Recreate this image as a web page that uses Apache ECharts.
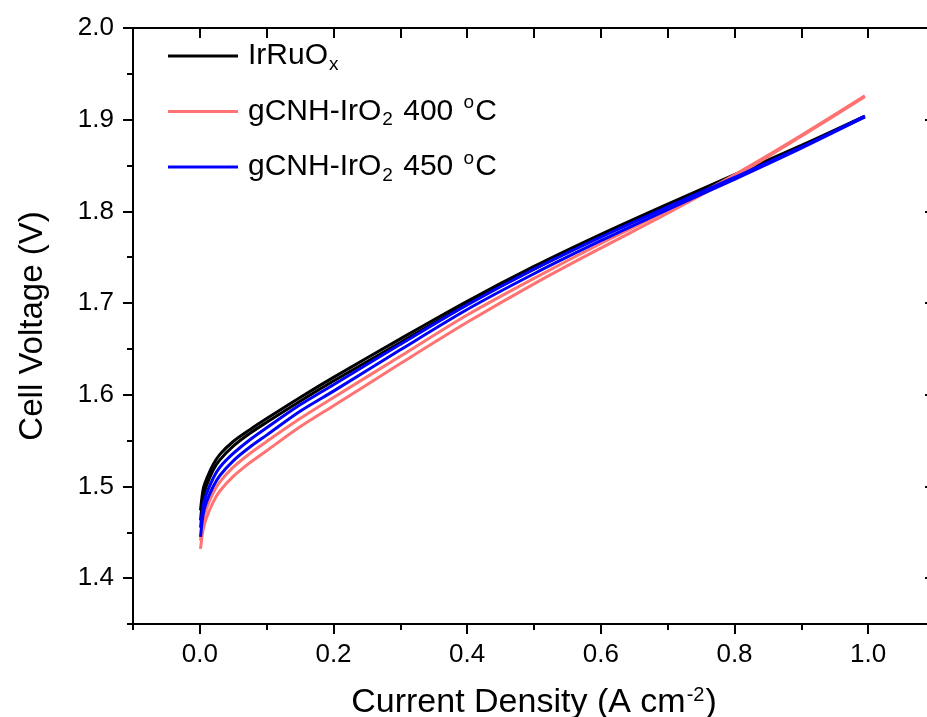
<!DOCTYPE html>
<html>
<head>
<meta charset="utf-8">
<script src="https://cdn.jsdelivr.net/npm/echarts@6/dist/echarts.min.js"></script>
<style>html,body{margin:0;padding:0;background:#fff;}#c{width:927px;height:717px;}</style>
</head>
<body>
<div id="c"></div>
<script>
// Current density (A cm^-2)
var currentDensity = [0.001, 0.005, 0.01, 0.02, 0.03, 0.05, 0.075, 0.1, 0.15, 0.2, 0.3, 0.4, 0.5, 0.6, 0.7, 0.8, 0.9, 0.995];
// Cell voltage (V), two scans per sample
var irruoxUp    = [1.474, 1.497, 1.508, 1.524, 1.535, 1.549, 1.562, 1.574, 1.597, 1.619, 1.661, 1.702, 1.740, 1.775, 1.808, 1.840, 1.872, 1.904];
var irruoxDown  = [1.463, 1.488, 1.501, 1.518, 1.529, 1.544, 1.558, 1.570, 1.593, 1.615, 1.657, 1.699, 1.737, 1.773, 1.806, 1.839, 1.871, 1.903];
var ir400Up     = [1.441, 1.463, 1.476, 1.493, 1.505, 1.521, 1.536, 1.549, 1.574, 1.597, 1.642, 1.687, 1.727, 1.765, 1.801, 1.840, 1.883, 1.926];
var ir400Down   = [1.432, 1.453, 1.466, 1.483, 1.495, 1.511, 1.526, 1.539, 1.565, 1.588, 1.634, 1.679, 1.721, 1.760, 1.798, 1.838, 1.882, 1.925];
var ir450Up     = [1.455, 1.479, 1.492, 1.509, 1.521, 1.536, 1.551, 1.564, 1.589, 1.611, 1.655, 1.698, 1.737, 1.772, 1.805, 1.837, 1.870, 1.904];
var ir450Down   = [1.445, 1.470, 1.483, 1.500, 1.512, 1.528, 1.543, 1.556, 1.582, 1.604, 1.649, 1.693, 1.732, 1.768, 1.802, 1.835, 1.869, 1.903];
// Ticks
var xMajorTicks = [0, 0.2, 0.4, 0.6, 0.8, 1.0];
var yMajorTicks = [1.4, 1.5, 1.6, 1.7, 1.8, 1.9, 2.0];
var seriesNames = ['IrRuOx', 'gCNH-IrO2 400 °C', 'gCNH-IrO2 450 °C'];
var seriesColors = ['#000000', '#FF7373', '#0000FF'];

function pairs(ys) { return currentDensity.map(function (x, i) { return [x, ys[i]]; }); }

var FONT = '"Liberation Sans", Arial, sans-serif';
var chart = echarts.init(document.getElementById('c'), null, {renderer: 'canvas'});

function mkSeries(name, color, ys, z) {
  return {
    name: name, type: 'line', data: pairs(ys), xAxisIndex: 0, yAxisIndex: 0,
    showSymbol: false, symbol: 'none', smooth: 0.3,
    lineStyle: {color: color, width: 3}, itemStyle: {color: color}, z: z,
    emphasis: {disabled: true}, animation: false
  };
}

var legendRich = {
  a: {fontSize: 30, fontFamily: FONT, color: '#000', lineHeight: 36, padding: [0, 0, 0, 5]},
  b: {fontSize: 30, fontFamily: FONT, color: '#000', lineHeight: 36},
  sub: {fontSize: 19, fontFamily: FONT, color: '#000', verticalAlign: 'bottom', padding: [0, 2, 0, 1]},
  sup: {fontSize: 19, fontFamily: FONT, color: '#000', verticalAlign: 'top', padding: [0, 1, 0, 2]}
};

var option = {
  backgroundColor: '#fff',
  animation: false,
  grid: {left: 133, top: 28, width: 802, height: 596, containLabel: false, outerBoundsMode: 'none'},
  legend: {
    data: seriesNames, orient: 'vertical', left: 168, top: 41, itemGap: 19.5, padding: 0,
    icon: 'rect', itemWidth: 70, itemHeight: 3,
    textStyle: {rich: legendRich},
    formatter: function (n) {
      if (n === 'IrRuOx') return '{a|IrRuO}{sub|x}';
      if (n === 'gCNH-IrO2 400 °C') return '{a|gCNH-IrO}{sub|2}{b| 400 }{sup|o}{b|C}';
      return '{a|gCNH-IrO}{sub|2}{b| 450 }{sup|o}{b|C}';
    },
    selectedMode: false
  },
  xAxis: [
    {type: 'value', position: 'bottom', min: -0.1, max: 1.1, interval: 0.1,
     axisLine: {show: true, onZero: false, lineStyle: {color: '#000', width: 2}},
     axisTick: {show: true, inside: false, length: 6, lineStyle: {color: '#000', width: 2}},
     splitLine: {show: false},
     axisLabel: {show: true, margin: 18, fontSize: 26, fontFamily: FONT, color: '#000',
       formatter: function (v) { var k = Math.round(v * 10); return (k % 2 === 0 && k >= 0 && k <= 10) ? (k / 10).toFixed(1) : ''; }},
     name: '{a|Current Density (A cm}{sup|-2}{a|)}', nameLocation: 'middle', nameGap: 59,
     nameTextStyle: {rich: {
       a: {fontSize: 34, fontFamily: FONT, color: '#000', lineHeight: 40},
       sup: {fontSize: 20, fontFamily: FONT, color: '#000', verticalAlign: 'top', lineHeight: 22, padding: [2, 1, 0, 1]}
     }}
    },
    {type: 'value', position: 'bottom', min: -0.1, max: 1.1,
     axisLine: {show: false, onZero: false},
     axisTick: {show: true, inside: false, length: 10, customValues: xMajorTicks, lineStyle: {color: '#000', width: 2}},
     axisLabel: {show: false}, splitLine: {show: false}},
    {type: 'value', position: 'top', min: -0.1, max: 1.1, interval: 0.1,
     axisLine: {show: true, onZero: false, lineStyle: {color: '#000', width: 2}},
     axisTick: {show: true, inside: true, length: 10, lineStyle: {color: '#000', width: 2}},
     axisLabel: {show: false}, splitLine: {show: false}}
  ],
  yAxis: [
    {type: 'value', position: 'left', min: 1.35, max: 2.0, interval: 0.05,
     axisLine: {show: true, onZero: false, lineStyle: {color: '#000', width: 2}},
     axisTick: {show: true, inside: false, length: 6, lineStyle: {color: '#000', width: 2}},
     splitLine: {show: false},
     axisLabel: {show: true, margin: 19, fontSize: 26, fontFamily: FONT, color: '#000',
       formatter: function (v) { var k = Math.round(v * 100); return (k % 10 === 0) ? (k / 100).toFixed(1) : ''; }},
     name: 'Cell Voltage (V)', nameLocation: 'middle', nameGap: 84,
     nameTextStyle: {fontSize: 33, fontFamily: FONT, color: '#000'}
    },
    {type: 'value', position: 'left', min: 1.35, max: 2.0,
     axisLine: {show: false, onZero: false},
     axisTick: {show: true, inside: false, length: 10, customValues: yMajorTicks, lineStyle: {color: '#000', width: 2}},
     axisLabel: {show: false}, splitLine: {show: false}},
    {type: 'value', position: 'right', min: 1.35, max: 2.0,
     axisLine: {show: false, onZero: false},
     axisTick: {show: true, inside: true, length: 10, customValues: yMajorTicks, lineStyle: {color: '#000', width: 2}},
     axisLabel: {show: false}, splitLine: {show: false}}
  ],
  series: [
    mkSeries(seriesNames[0], seriesColors[0], irruoxUp, 2),
    mkSeries(seriesNames[0], seriesColors[0], irruoxDown, 2),
    mkSeries(seriesNames[1], seriesColors[1], ir400Up, 3),
    mkSeries(seriesNames[1], seriesColors[1], ir400Down, 3),
    mkSeries(seriesNames[2], seriesColors[2], ir450Up, 4),
    mkSeries(seriesNames[2], seriesColors[2], ir450Down, 4)
  ]
};
chart.setOption(option);
</script>
</body>
</html>
